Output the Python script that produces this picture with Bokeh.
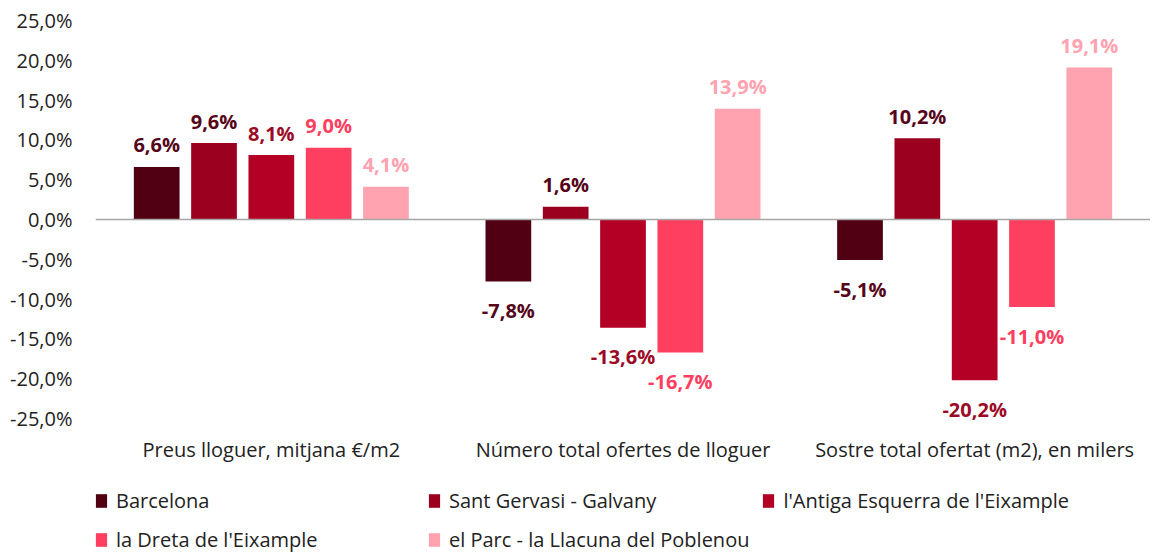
from bokeh.plotting import figure
from bokeh.layouts import column
from bokeh.models import (FactorRange, Range1d, ColumnDataSource, FixedTicker, Span,
                          Legend, LegendItem)
from bokeh.transform import dodge
from bokeh.core.properties import value
from bokeh.embed import file_html
from bokeh.resources import INLINE

categories = ["Preus lloguer, mitjana €/m2",
              "Número total ofertes de lloguer",
              "Sostre total ofertat (m2), en milers"]
series_names = ["Barcelona", "Sant Gervasi - Galvany", "l'Antiga Esquerra de l'Eixample",
                "la Dreta de l'Eixample", "el Parc - la Llacuna del Poblenou"]
barcelona = [6.6, -7.8, -5.1]
sant_gervasi = [9.6, 1.6, 10.2]
antiga_esquerra = [8.1, -13.6, -20.2]
dreta_eixample = [9.0, -16.7, -11.0]
parc_llacuna = [4.1, 13.9, 19.1]
series_values = [barcelona, sant_gervasi, antiga_esquerra, dreta_eixample, parc_llacuna]
y_ticks = [-25, -20, -15, -10, -5, 0, 5, 10, 15, 20, 25]

bar_colors = ["#500012", "#9B001F", "#B30024", "#FF3F5F", "#FFA3B1"]
label_colors = ["#55061A", "#55061A", "#9B0B26", "#FF3F5F", "#FFA3B1"]
offsets = [-0.326, -0.163, 0.0, 0.163, 0.326]
FONT = "Open Sans"


def fmt(v):
    return f"{v:.1f}%".replace(".", ",")


p = figure(x_range=FactorRange(*categories, range_padding=0),
           y_range=Range1d(-26, 26),
           width=1150, height=470, output_backend="svg", toolbar_location=None,
           min_border_left=95, min_border_right=0, min_border_top=12, min_border_bottom=44)
p.outline_line_color = None
p.xgrid.visible = False
p.ygrid.visible = False

p.add_layout(Span(location=0, dimension="width", line_color="#A6A6A6", line_width=1.5))

for name, vals, bc, lc, off in zip(series_names, series_values, bar_colors, label_colors, offsets):
    src = ColumnDataSource(dict(
        x=categories, top=vals,
        label=[fmt(v) for v in vals],
        yoff=[-22 if v >= 0 else 29 for v in vals],
    ))
    p.vbar(x=dodge("x", off, range=p.x_range), top="top", bottom=0, width=0.13,
           source=src, fill_color=bc, line_color=None)
    p.text(x=dodge("x", off, range=p.x_range), y="top", text="label", source=src,
           y_offset="yoff", text_align="center", text_baseline="middle",
           text_font=value(FONT), text_font_style="bold", text_font_size="20px",
           text_color=lc)

ya = p.yaxis[0]
ya.ticker = FixedTicker(ticks=y_ticks)
ya.major_label_overrides = {t: fmt(t) for t in y_ticks}
ya.axis_line_color = None
ya.major_tick_line_color = None
ya.minor_tick_line_color = None
ya.major_tick_out = 0
ya.major_tick_in = 0
ya.major_label_standoff = 23
ya.major_label_text_font = FONT
ya.major_label_text_font_size = "20px"
ya.major_label_text_color = "#222222"

xa = p.xaxis[0]
xa.axis_line_color = None
xa.major_tick_line_color = None
xa.minor_tick_line_color = None
xa.major_tick_out = 0
xa.major_tick_in = 0
xa.major_label_standoff = 9
xa.major_label_text_font = FONT
xa.major_label_text_font_size = "20px"
xa.major_label_text_color = "#222222"

# legend strip (its renderers are hidden copies of the bars; only the legend shows)
lg = figure(width=1150, height=86, output_backend="svg", toolbar_location=None,
            x_range=FactorRange(*categories), y_range=Range1d(-26, 26),
            x_axis_location=None, y_axis_location=None,
            min_border=0)
lg.outline_line_color = None
lg.xgrid.visible = False
lg.ygrid.visible = False
items = []
for name, vals, bc in zip(series_names, series_values, bar_colors):
    r = lg.vbar(x=categories, top=vals, width=0.1, fill_color=bc, line_color=None,
                visible=False)
    items.append(LegendItem(label=name, renderers=[r]))
legend = Legend(items=items, orientation="horizontal", ncols=3,
                location=(-1, 3), padding=0, margin=0, spacing=12,
                glyph_width=14, glyph_height=17, label_height=27, label_standoff=8,
                label_width=299, label_text_font=FONT, label_text_font_size="20px",
                label_text_color="#222222", background_fill_alpha=0, border_line_color=None,
                inactive_fill_alpha=0)
lg.add_layout(legend)

open("out.html", "w").write(file_html(column(p, lg, spacing=0), INLINE))
